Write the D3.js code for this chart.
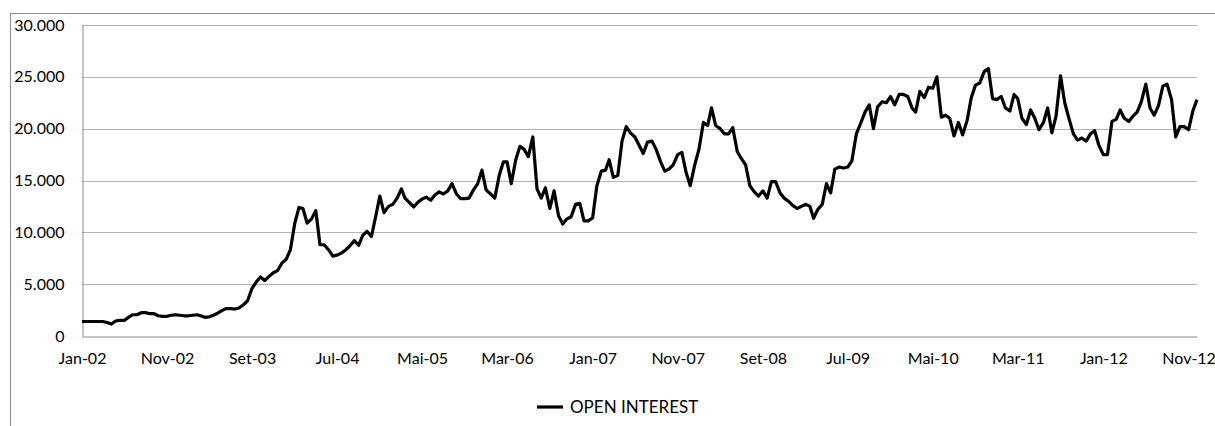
<!DOCTYPE html>
<html>
<head>
<meta charset="utf-8">
<script src="https://cdn.jsdelivr.net/npm/d3@7"></script>
<style>
  html, body { margin: 0; padding: 0; background: #fff; }
  svg { display: block; }
  text { font-family: Lato, "Open Sans", sans-serif; fill: #000; }
</style>
</head>
<body>
<svg id="chart" width="1215" height="426"></svg>
<script>
// Semi-monthly series (1st and 16th of each month), Jan 2002 – Dec 2012
const startYear = 2002;
const startMonth = 0;
const openInterest = [
  1400,1400,1400,1400,1400,1400,1300,1150,1450,1500,
  1500,1800,2050,2050,2250,2250,2150,2150,1950,1900,
  1900,2000,2050,2000,1950,1950,2000,2050,1950,1800,
  1850,2000,2200,2450,2650,2650,2600,2700,3000,3400,
  4600,5200,5700,5350,5750,6100,6300,7000,7400,8300,
  10900,12400,12300,10900,11300,12100,8800,8800,8300,7700,
  7800,8000,8300,8700,9200,8750,9700,10100,9600,11500,
  13500,11900,12500,12700,13300,14200,13300,12900,12450,12900,
  13200,13400,13100,13600,13900,13700,14000,14700,13700,13250,
  13250,13300,14100,14700,16000,14100,13700,13300,15500,16800,
  16800,14700,17000,18300,18000,17300,19200,14200,13300,14300,
  12300,14000,11600,10800,11300,11500,12700,12800,11100,11100,
  11400,14500,15900,16000,17000,15300,15500,18800,20200,19600,
  19200,18400,17600,18700,18800,18000,16800,15900,16100,16500,
  17500,17700,15800,14500,16500,18000,20600,20300,22000,20300,
  20000,19500,19500,20100,17800,17100,16500,14500,13900,13500,
  14000,13300,14900,14900,13800,13300,13000,12600,12300,12500,
  12700,12500,11350,12200,12700,14700,13800,16100,16300,16200,
  16300,16900,19500,20500,21600,22300,20000,22100,22600,22500,
  23100,22300,23300,23300,23100,22000,21600,23600,23000,24000,
  23900,25000,21100,21300,21000,19300,20600,19400,20800,23000,
  24200,24400,25500,25800,22900,22800,23100,22000,21700,23300,
  22900,21000,20400,21800,21000,19900,20600,22000,19600,21200,
  25100,22500,20900,19500,18900,19100,18800,19500,19800,18400,
  17500,17500,20700,20900,21800,21000,20700,21200,21600,22600,
  24300,22000,21300,22200,24100,24300,22800,19200,20200,20200,
  19900,21700,22800
];
const tickLabels = ["Jan-02","Nov-02","Set-03","Jul-04","Mai-05","Mar-06","Jan-07",
                    "Nov-07","Set-08","Jul-09","Mai-10","Mar-11","Jan-12","Nov-12"];
const yTicks = [0,5000,10000,15000,20000,25000,30000];
const seriesName = "OPEN INTEREST";

const data = openInterest.map((v, i) => ({
  date: new Date(startYear, startMonth + Math.floor(i / 2), i % 2 ? 16 : 1),
  value: v
}));
const tickDates = tickLabels.map((l, k) => new Date(startYear, startMonth + 10 * k, 1));

const svg = d3.select("#chart");
const plotLeft = 82, plotRight = 1197, plotTop = 25, plotBottom = 336;

const x = d3.scaleTime()
  .domain([data[0].date, data[data.length - 1].date])
  .range([plotLeft, plotRight]);
const y = d3.scaleLinear().domain([0, 30000]).range([plotBottom, plotTop]);

const loc = d3.formatLocale({ decimal: ",", thousands: ".", grouping: [3], currency: ["", ""] });
const fmt = loc.format(",d");

// outer chart border
svg.append("rect")
  .attr("x", 10.5).attr("y", 13.5)
  .attr("width", 1300).attr("height", 500)
  .attr("fill", "none").attr("stroke", "#8c8c8c").attr("stroke-width", 1);

// gridlines
svg.append("g")
  .selectAll("line").data(yTicks.filter(d => d > 0)).join("line")
  .attr("x1", plotLeft).attr("x2", plotRight)
  .attr("y1", d => Math.round(y(d)) + 0.5).attr("y2", d => Math.round(y(d)) + 0.5)
  .attr("stroke", "#b4b4b4").attr("stroke-width", 1);

// y axis
const yAxis = svg.append("g")
  .attr("transform", `translate(${plotLeft + 0.5},0)`)
  .call(d3.axisLeft(y).tickValues(yTicks).tickFormat(fmt).tickSize(0).tickPadding(18));
yAxis.select(".domain").attr("stroke", "#8c8c8c");
yAxis.selectAll("text").style("font-size", "16px").attr("fill", "#000");

// x axis
const xAxis = svg.append("g")
  .attr("transform", `translate(0,${Math.round(plotBottom) + 0.5})`)
  .call(d3.axisBottom(x).tickValues(tickDates).tickFormat((d, i) => tickLabels[i]).tickSize(0).tickPadding(16));
xAxis.select(".domain").attr("stroke", "#8c8c8c");
xAxis.selectAll("text").style("font-size", "16px").attr("fill", "#000");

// line
svg.append("path")
  .datum(data)
  .attr("fill", "none")
  .attr("stroke", "#000")
  .attr("stroke-width", 3.2)
  .attr("stroke-linejoin", "round")
  .attr("d", d3.line().x(d => x(d.date)).y(d => y(d.value)));

// legend
const lg = svg.append("g").attr("transform", "translate(537,407)");
lg.append("line").attr("x1", 0).attr("x2", 26).attr("y1", 0).attr("y2", 0)
  .attr("stroke", "#000").attr("stroke-width", 3.2);
lg.append("text").attr("x", 33).attr("y", 0).attr("dy", "0.35em")
  .style("font-size", "17px").text(seriesName);
</script>
</body>
</html>
